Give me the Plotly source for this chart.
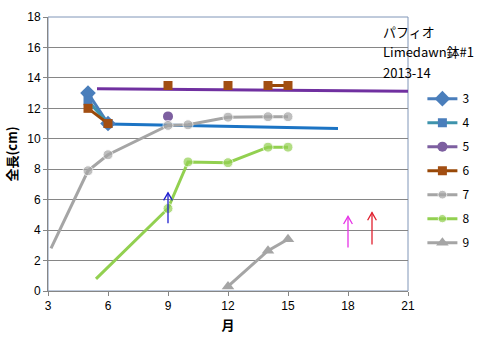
import plotly.graph_objects as go

# ---- data ----
x3 = [5, 6];            y3 = [13.0, 11.0]
x4 = [5, 6];            y4 = [12.5, 11.0]
x5 = [9];               y5 = [11.47]
x6 = [5, 6, 7, 9, 10, 12, 13, 14, 15]
y6 = [12.0, 11.0, None, 13.5, None, 13.5, None, 13.5, 13.5]
x7 = [3.15, 5, 6, 9, 10, 12, 14, 15]
y7 = [2.8, 7.9, 8.95, 10.88, 10.92, 11.42, 11.45, 11.45]
m7 = [0, 1, 1, 1, 1, 1, 1, 1]          # marker shown?
x8 = [5.4, 9, 10, 12, 14, 15]
y8 = [0.8, 5.42, 8.48, 8.43, 9.45, 9.45]
m8 = [0, 1, 1, 1, 1, 1]
x9 = [12, 14, 15];      y9 = [0.3, 2.65, 3.4]

trend_purple_x = [5.45, 21];  trend_purple_y = [13.28, 13.13]
trend_blue_x = [6, 17.5];     trend_blue_y = [10.97, 10.68]

arrows_x = [9, 18, 19.2]
arrows_y0 = [4.45, 2.85, 3.05]
arrows_y1 = [6.45, 4.9, 5.15]
arrows_color = ["#1F1FCF", "#E633E6", "#E0202E"]

notes = ["パフィオ", "Limedawn鉢#1", "2013-14"]

x_ticks = [3, 6, 9, 12, 15, 18, 21]
y_ticks = [0, 2, 4, 6, 8, 10, 12, 14, 16, 18]

FONT = "Noto Sans CJK JP"

fig = go.Figure()

# trend lines (no legend)
fig.add_trace(go.Scatter(x=trend_purple_x, y=trend_purple_y, mode="lines",
                         line=dict(color="#7030A0", width=3), showlegend=False, hoverinfo="skip"))
fig.add_trace(go.Scatter(x=trend_blue_x, y=trend_blue_y, mode="lines",
                         line=dict(color="#1C74C4", width=3), showlegend=False, hoverinfo="skip"))

series = [
    ("3", x3, y3, "#4A7EBB", "#4A7EBB", "diamond", 12, None),
    ("4", x4, y4, "#3E93AC", "#4A7EBB", "square", 9, None),
    ("5", x5, y5, "#7D5FA0", "#7D5FA0", "circle", 10, None),
    ("6", x6, y6, "#984807", "#A24E12", "square", 9, None),
    ("7", x7, y7, "#A5A5A5", "#A5A5A5", "circle", 10, m7),
    ("8", x8, y8, "#92D050", "#92D050", "circle", 10, m8),
    ("9", x9, y9, "#A5A5A5", "#A5A5A5", "triangle-up", 11, None),
]
for i, (name, xs, ys, lc, mc, sym, sz, show) in enumerate(series):
    size = sz if show is None else [sz * s for s in show]
    fig.add_trace(go.Scatter(
        x=xs, y=ys, name=name, mode="lines+markers", connectgaps=False,
        line=dict(color=lc, width=3),
        marker=dict(color=mc, symbol=sym, size=size),
        legendgroup="g" + name,
    ))

# arrows built from arrow data
for ax_, y0, y1, c in zip(arrows_x, arrows_y0, arrows_y1, arrows_color):
    fig.add_trace(go.Scatter(x=[ax_, ax_], y=[y0, y1], mode="lines",
                             line=dict(color=c, width=1.3), showlegend=False, hoverinfo="skip"))
    fig.add_trace(go.Scatter(x=[ax_ - 0.22, ax_, ax_ + 0.22], y=[y1 - 0.5, y1, y1 - 0.5],
                             mode="lines", line=dict(color=c, width=1.3),
                             showlegend=False, hoverinfo="skip"))

annotations = []
for i, t in enumerate(notes):
    annotations.append(dict(text=t, xref="paper", yref="paper", x=0.925, y=0.947 - i * 0.0745,
                            xanchor="left", yanchor="middle", showarrow=False,
                            font=dict(family=FONT, size=13, color="#000000")))

fig.update_layout(
    width=488, height=341,
    margin=dict(l=48, r=80, t=10, b=48),
    paper_bgcolor="white", plot_bgcolor="white",
    font=dict(family=FONT, size=12, color="#000000"),
    annotations=annotations,
    legend=dict(x=1.04, y=0.755, xanchor="left", yanchor="top",
                font=dict(family=FONT, size=12), tracegroupgap=5,
                itemwidth=30, bgcolor="rgba(0,0,0,0)"),
    shapes=[dict(type="rect", xref="paper", yref="paper", x0=0, y0=0, x1=1, y1=1,
                 line=dict(color="#8096B8", width=1), layer="below")],
)
fig.update_xaxes(range=[3, 21], tickvals=x_ticks, ticks="outside", ticklen=4,
                 tickcolor="#868686", showline=True, linecolor="#868686", linewidth=1,
                 showgrid=False, zeroline=False,
                 tickfont=dict(family="Liberation Sans", size=12),
                 title=dict(text="<b>月</b>", font=dict(family=FONT, size=13), standoff=8))
fig.update_yaxes(range=[0, 18], tickvals=y_ticks, ticks="outside", ticklen=4,
                 tickcolor="#868686", showline=True, linecolor="#868686", linewidth=1,
                 showgrid=True, gridcolor="#868686", gridwidth=1, zeroline=False,
                 tickfont=dict(family="Liberation Sans", size=12),
                 title=dict(text="<b>全長(cm)</b>", font=dict(family=FONT, size=13), standoff=6))

fig.write_html("out.html")
